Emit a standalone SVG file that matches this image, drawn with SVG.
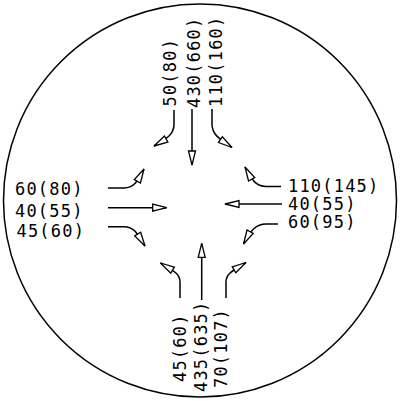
<svg xmlns="http://www.w3.org/2000/svg" width="400" height="401" viewBox="0 0 400 401">
<style>
.c{fill:none;stroke:#000;stroke-width:1.5}
.l{fill:none;stroke:#000;stroke-width:1.5;marker-end:url(#ah)}
text{font-family:"DejaVu Sans Mono","Liberation Mono",monospace;font-size:17px;fill:#000;letter-spacing:1.2px}
</style>
<defs>
<marker id="ah" markerUnits="userSpaceOnUse" markerWidth="20" markerHeight="12" refX="15" refY="4.5" orient="auto" overflow="visible">
<path d="M15,4.5 L1,1 L1,8 Z" fill="#fff" stroke="#000" stroke-width="1.3" stroke-linejoin="miter"/>
</marker>
</defs>
<rect width="400" height="401" fill="#fff"/>
<g id="boundary"><circle class="c" cx="200" cy="200.5" r="196.5"/></g>
<g id="connectors">
<path class="l" d="M174,110 V124 C174,134 168,138 154,146"/>
<path class="l" d="M192,109 V165"/>
<path class="l" d="M212,109 V124 C212,134 218,138 232,147.5"/>
<path class="l" d="M108,188 H124 C134,188 137,182 144,169"/>
<path class="l" d="M108,207.7 H166.7"/>
<path class="l" d="M108,226.7 H124 C134,226.7 137,233 145,246"/>
<path class="l" d="M281,186.5 H266 C256,186.5 252,180 245,167"/>
<path class="l" d="M282,204 H225"/>
<path class="l" d="M278,224 H266 C256,224 251,230 243.5,244"/>
<path class="l" d="M180,298 V282 C180,274 174,271 160.5,263"/>
<path class="l" d="M201.7,300 V243.3"/>
<path class="l" d="M226,298 V282 C226,274 232,271 246,262.5"/>
</g>
<g id="west-labels">
<text x="15" y="195">60(80)</text>
<text x="15" y="216.5">40(55)</text>
<text x="16.5" y="236.5">45(60)</text>
</g>
<g id="east-labels">
<text x="288" y="191.7">110(145)</text>
<text x="288" y="210">40(55)</text>
<text x="288" y="228.3">60(95)</text>
</g>
<g id="north-labels">
<text transform="translate(175.5,106.5) rotate(-90)">50(80)</text>
<text transform="translate(200,108) rotate(-90)">430(660)</text>
<text transform="translate(221.5,107) rotate(-90)">110(160)</text>
</g>
<g id="south-labels">
<text transform="translate(185.5,382) rotate(-90)">45(60)</text>
<text transform="translate(207,392) rotate(-90)">435(635)</text>
<text transform="translate(227,388) rotate(-90)">70(107)</text>
</g>
</svg>
